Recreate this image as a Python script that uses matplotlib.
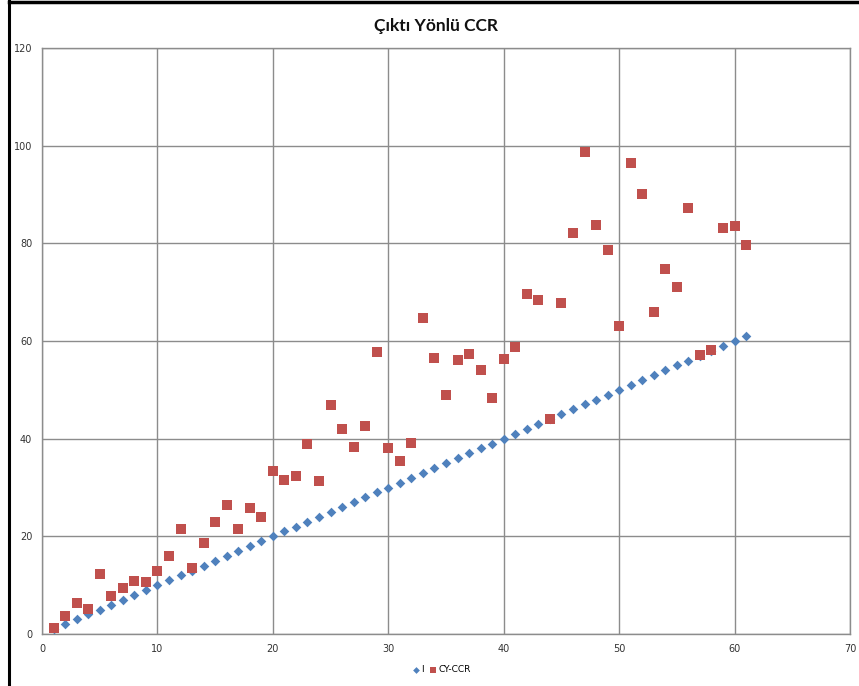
import matplotlib
matplotlib.use("Agg")
import matplotlib.pyplot as plt
from matplotlib.lines import Line2D

# DMU index
dmu = list(range(1, 62))
# series "I" (diagonal reference)
series_i = list(range(1, 62))
# series "CY-CCR"
cy_ccr = [
    1.2, 3.6, 6.4, 5.2, 12.3, 7.8, 9.4, 10.9, 10.7, 13.0,
    16.0, 21.5, 13.6, 18.6, 23.0, 26.5, 21.4, 25.7, 23.9, 33.3,
    31.6, 32.4, 39.0, 31.4, 46.9, 42.0, 38.2, 42.6, 57.8, 38.1,
    35.4, 39.2, 64.7, 56.6, 49.0, 56.1, 57.3, 54.1, 48.4, 56.3,
    58.8, 69.6, 68.4, 44.1, 67.8, 82.2, 98.8, 83.7, 78.6, 63.1,
    96.5, 90.1, 66.0, 74.8, 71.0, 87.2, 57.1, 58.1, 83.1, 83.5,
    79.7,
]
x_ticks = [0, 10, 20, 30, 40, 50, 60, 70]
y_ticks = [0, 20, 40, 60, 80, 100, 120]

BLUE = "#4F81BD"
RED = "#C0504D"
GRID = "#8C8C8C"

fig = plt.figure(figsize=(8.59, 6.86), dpi=100)
ax = fig.add_axes([42 / 859, 52 / 686, 808 / 859, 586 / 686])

ax.scatter(dmu, series_i, marker="D", s=24, color=BLUE, linewidths=0, label="I", zorder=3)
ax.scatter(dmu, cy_ccr, marker="s", s=44, color=RED, linewidths=0, label="CY-CCR", zorder=3)

ax.set_xlim(0, 70)
ax.set_ylim(0, 120)
ax.set_xticks(x_ticks)
ax.set_yticks(y_ticks)
ax.grid(True, color=GRID, linewidth=1.0)
ax.set_axisbelow(True)
for s in ax.spines.values():
    s.set_color(GRID)
    s.set_linewidth(1.0)
ax.tick_params(length=0, labelsize=7, labelcolor="#333333", pad=7)
for lab in ax.get_xticklabels() + ax.get_yticklabels():
    lab.set_family(["DejaVu Sans"])

fig.text(436 / 859, 1 - 26 / 686, "Çıktı Yönlü CCR", ha="center", va="center",
         fontsize=12.5, fontweight="bold", family=["Lato", "DejaVu Sans"], color="#111111")

leg = fig.legend(loc="center", bbox_to_anchor=(441 / 859, 1 - 670 / 686), ncol=2,
                 frameon=False, fontsize=6.5, handletextpad=0.1, columnspacing=0.5,
                 handlelength=1.0, markerscale=0.7)

# black frame edges of the screenshot
fig.add_artist(Line2D([9 / 859, 9 / 859], [0, 1], color="black", linewidth=2.2,
                      transform=fig.transFigure))
fig.add_artist(Line2D([9 / 859, 1], [1 - 1.5 / 686, 1 - 1.5 / 686], color="black",
                      linewidth=2.5, transform=fig.transFigure))

fig.savefig("out.png", dpi=100)
